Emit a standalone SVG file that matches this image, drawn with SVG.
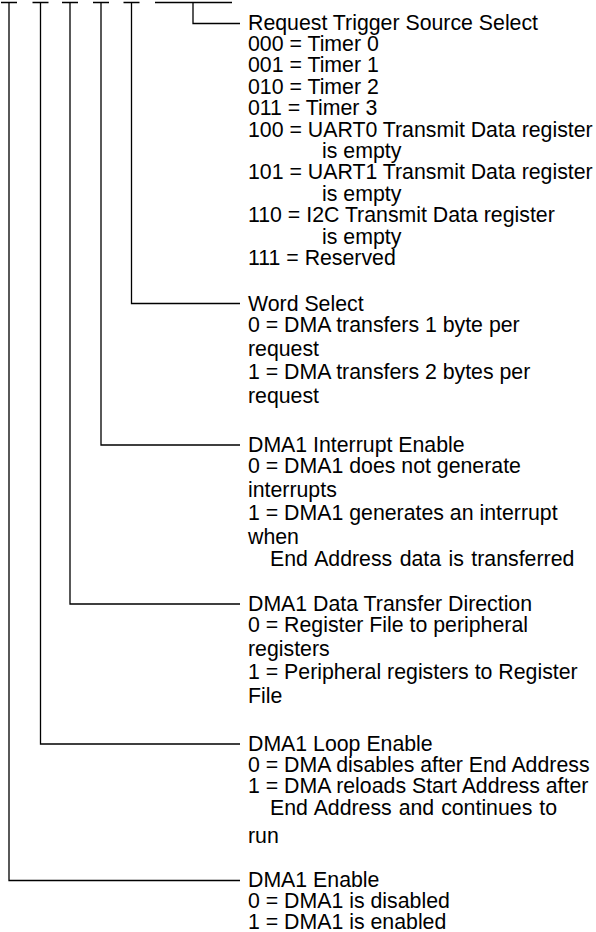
<svg xmlns="http://www.w3.org/2000/svg" width="596" height="932" viewBox="0 0 596 932">
<style>
  .ln { stroke: #000; stroke-width: 1.3; fill: none; }
  text { font-family: "Liberation Sans", Arial, sans-serif; font-size: 21.3px; fill: #000; }
</style>
<rect width="596" height="932" fill="#fff"/>
<g id="connectors">
  <path class="ln" d="M1 2.5 H17 M32.5 2.5 H48.5 M62 2.5 H78 M93 2.5 H109 M123.5 2.5 H139.5 M155 2.5 H232"/>
  <path class="ln" d="M193 2.5 V23.5 H240"/>
  <path class="ln" d="M131.5 2.5 V303.5 H240"/>
  <path class="ln" d="M101 2.5 V445 H240"/>
  <path class="ln" d="M70 2.5 V604 H240"/>
  <path class="ln" d="M40.5 2.5 V744 H240"/>
  <path class="ln" d="M9 2.5 V880.5 H240"/>
</g>
<g id="trigger">
  <text x="248" y="29.5">Request Trigger Source Select</text>
  <text x="248" y="50.9">000 = Timer 0</text>
  <text x="248" y="72.3">001 = Timer 1</text>
  <text x="248" y="93.7">010 = Timer 2</text>
  <text x="248" y="115.1">011 = Timer 3</text>
  <text x="248" y="136.5">100 = UART0 Transmit Data register</text>
  <text x="322" y="157.9">is empty</text>
  <text x="248" y="179.3">101 = UART1 Transmit Data register</text>
  <text x="322" y="200.7">is empty</text>
  <text x="248" y="222.1">110 = I2C Transmit Data register</text>
  <text x="322" y="243.5">is empty</text>
  <text x="248" y="264.9">111 = Reserved</text>
</g>
<g id="word-select">
  <text x="248" y="310.5">Word Select</text>
  <text x="248" y="331.5">0 = DMA transfers 1 byte per</text>
  <text x="248" y="355.5">request</text>
  <text x="248" y="378.5">1 = DMA transfers 2 bytes per</text>
  <text x="248" y="402.5">request</text>
</g>
<g id="interrupt-enable">
  <text x="248" y="452">DMA1 Interrupt Enable</text>
  <text x="248" y="473">0 = DMA1 does not generate</text>
  <text x="248" y="497">interrupts</text>
  <text x="248" y="520">1 = DMA1 generates an interrupt</text>
  <text x="248" y="544">when</text>
  <text x="270" y="566" word-spacing="1.5">End Address data is transferred</text>
</g>
<g id="direction">
  <text x="248" y="610.5">DMA1 Data Transfer Direction</text>
  <text x="248" y="631.5">0 = Register File to peripheral</text>
  <text x="248" y="655.5">registers</text>
  <text x="248" y="678.5">1 = Peripheral registers to Register</text>
  <text x="248" y="702.5">File</text>
</g>
<g id="loop-enable">
  <text x="248" y="750.5">DMA1 Loop Enable</text>
  <text x="248" y="771.5">0 = DMA disables after End Address</text>
  <text x="248" y="792.5">1 = DMA reloads Start Address after</text>
  <text x="270" y="814.5" word-spacing="1">End Address and continues to</text>
  <text x="248" y="842.5">run</text>
</g>
<g id="dma-enable">
  <text x="248" y="886.5">DMA1 Enable</text>
  <text x="248" y="907.5">0 = DMA1 is disabled</text>
  <text x="248" y="928.5">1 = DMA1 is enabled</text>
</g>
</svg>
